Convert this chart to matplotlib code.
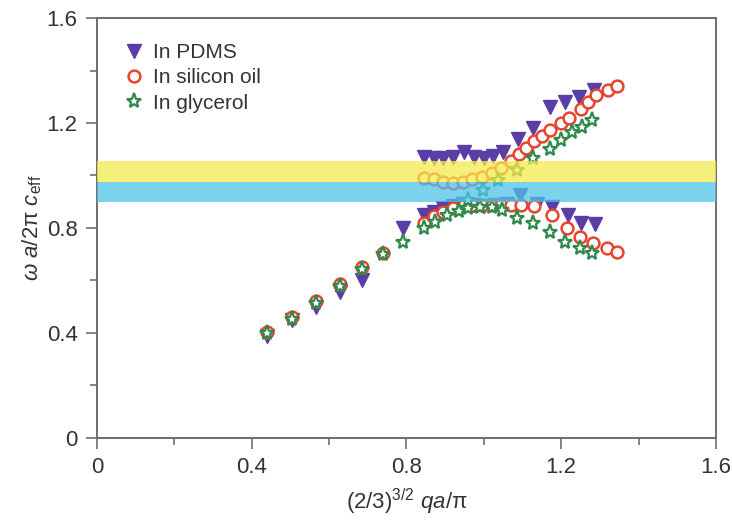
import matplotlib
matplotlib.use('Agg')
import matplotlib.pyplot as plt
from matplotlib.ticker import MultipleLocator

plt.rcParams['font.family'] = ['Liberation Sans', 'DejaVu Sans']
plt.rcParams['mathtext.fontset'] = 'custom'
plt.rcParams['mathtext.rm'] = 'Liberation Sans'
plt.rcParams['mathtext.it'] = 'Liberation Sans:italic'

# PDMS (filled triangles), lower and upper branches
pdms_x_low = [0.44, 0.505, 0.565, 0.627, 0.685, 0.79, 0.845, 0.87, 0.895, 0.92, 0.945,
              0.975, 1.0, 1.03, 1.06, 1.093, 1.137, 1.176, 1.217, 1.25, 1.287]
pdms_y_low = [0.39, 0.45, 0.50, 0.555, 0.60, 0.80, 0.85, 0.86, 0.875, 0.885, 0.893,
              0.888, 0.885, 0.888, 0.89, 0.925, 0.89, 0.88, 0.85, 0.82, 0.815]
pdms_x_up = [0.845, 0.87, 0.895, 0.92, 0.95, 0.975, 1.0, 1.025, 1.05, 1.088, 1.127,
             1.17, 1.21, 1.245, 1.285]
pdms_y_up = [1.07, 1.065, 1.065, 1.07, 1.09, 1.07, 1.065, 1.075, 1.09, 1.14, 1.18,
             1.26, 1.28, 1.30, 1.325]

# silicon oil (open circles)
oil_x_low = [0.44, 0.505, 0.565, 0.627, 0.685, 0.74, 0.845, 0.87, 0.895, 0.92, 0.945,
             0.97, 0.995, 1.02, 1.045, 1.07, 1.095, 1.13, 1.176, 1.214, 1.248, 1.282,
             1.318, 1.345]
oil_y_low = [0.405, 0.46, 0.52, 0.585, 0.65, 0.705, 0.82, 0.845, 0.862, 0.875, 0.885,
             0.888, 0.888, 0.887, 0.887, 0.888, 0.888, 0.885, 0.85, 0.80, 0.766, 0.743,
             0.724, 0.709]
oil_x_up = [0.845, 0.87, 0.895, 0.92, 0.945, 0.97, 0.995, 1.02, 1.045, 1.07, 1.09,
            1.11, 1.13, 1.15, 1.17, 1.2, 1.22, 1.25, 1.27, 1.29, 1.32, 1.345]
oil_y_up = [0.99, 0.985, 0.975, 0.97, 0.975, 0.985, 0.995, 1.01, 1.03, 1.055, 1.08,
            1.105, 1.13, 1.15, 1.173, 1.20, 1.22, 1.255, 1.28, 1.305, 1.325, 1.34]

# glycerol (open stars)
gly_x_low = [0.44, 0.505, 0.565, 0.627, 0.685, 0.74, 0.79, 0.845, 0.875, 0.905, 0.935,
             0.96, 0.99, 1.02, 1.047, 1.085, 1.127, 1.17, 1.21, 1.248, 1.28]
gly_y_low = [0.40, 0.455, 0.515, 0.58, 0.645, 0.70, 0.745, 0.80, 0.823, 0.85, 0.865,
             0.875, 0.88, 0.88, 0.869, 0.838, 0.82, 0.785, 0.745, 0.724, 0.705]
gly_x_up = [0.96, 0.998, 1.037, 1.085, 1.127, 1.17, 1.20, 1.227, 1.253, 1.28]
gly_y_up = [0.905, 0.945, 0.983, 1.02, 1.065, 1.10, 1.135, 1.165, 1.185, 1.21]

# band gaps
yellow_band = (0.975, 1.055)
blue_band = (0.90, 0.975)

ticks = [0, 0.4, 0.8, 1.2, 1.6]
tick_labels = ['0', '0.4', '0.8', '1.2', '1.6']

c_pdms = '#5a3ea6'
c_oil = '#e8432c'
c_gly = '#2f8a4c'

f = plt.figure(figsize=(7.32, 5.22), dpi=100)
ax = f.add_axes([0.1325, 0.161, 0.8455, 0.8045])

ax.plot(pdms_x_low + pdms_x_up, pdms_y_low + pdms_y_up, 'v', color=c_pdms, ms=9.5,
        ls='none', label='In PDMS', zorder=3)
ax.plot(oil_x_low + oil_x_up, oil_y_low + oil_y_up, 'o', mfc='white', mec=c_oil, mew=1.8,
        ms=8.5, ls='none', label='In silicon oil', zorder=4)
ax.plot(gly_x_low + gly_x_up, gly_y_low + gly_y_up, '*', mfc='white', mec=c_gly, mew=1.6,
        ms=11, ls='none', label='In glycerol', zorder=5)

# bands drawn over the markers, semi transparent like the original
ax.axhspan(*yellow_band, color='#f4ea4c', alpha=0.75, lw=0, zorder=6)
ax.axhspan(*blue_band, color='#4fc3e8', alpha=0.75, lw=0, zorder=6)

ax.set_xlim(0, 1.6)
ax.set_ylim(0, 1.6)
ax.set_xticks(ticks)
ax.set_xticklabels(tick_labels)
ax.set_yticks(ticks)
ax.set_yticklabels(tick_labels)
ax.xaxis.set_minor_locator(MultipleLocator(0.2))
ax.yaxis.set_minor_locator(MultipleLocator(0.2))

for s in ax.spines.values():
    s.set_color('#6e6e6e')
    s.set_linewidth(1.4)
ax.tick_params(which='both', direction='out', colors='#6e6e6e', labelcolor='#333333',
               labelsize=16, top=False, right=False, width=1.2)
ax.tick_params(which='major', length=8, pad=6)
ax.tick_params(which='minor', length=5)

ax.set_xlabel(r'(2/3)$^{3/2}$ $qa$/π', fontsize=16, color='#333333', labelpad=6)
ax.set_ylabel(r'$\omega\ a$/2π $c_{\mathrm{eff}}$', fontsize=16, color='#333333', labelpad=2)

leg = ax.legend(loc='upper left', frameon=False, fontsize=15, handletextpad=0.3,
                borderaxespad=0.8, labelspacing=0.3, handlelength=1.2)
for t in leg.get_texts():
    t.set_color('#333333')

f.savefig('out.png', dpi=100)
